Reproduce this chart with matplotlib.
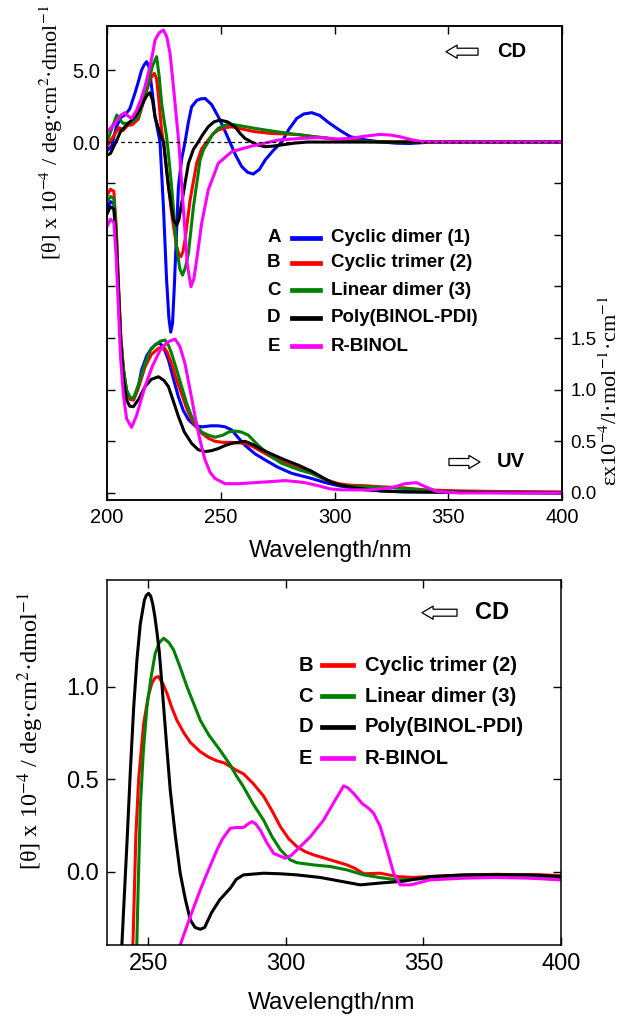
import numpy as np
import matplotlib
matplotlib.use("Agg")
import matplotlib.pyplot as plt
from matplotlib.lines import Line2D

plt.rcParams['font.family'] = ['Liberation Sans', 'DejaVu Sans']
plt.rcParams['mathtext.fontset'] = 'stix'

# ---------------- top panel: CD (left axis) ----------------
cd_wl_A = [200, 202, 204, 206, 208, 210, 212.3, 213.8, 215.2, 216.3, 217.4, 218.5, 219.6, 220.4, 221.1,
           222.2, 223.3, 224.8, 226.2, 227.2, 228, 228.8, 229.6, 230.5, 231.4, 232.8, 234.3, 235.8,
           237.2, 239.5, 241.3, 243.1, 246, 248.9, 251.5, 254, 256.5, 259.2, 261.8, 264.3, 267,
           269.5, 273, 276.8, 280, 283.4, 286.5, 290, 293.5, 297, 302, 307, 314, 320, 327, 333,
           340, 350, 400]
cd_A = [-0.6, -0.3, 1.0, 1.7, 1.9, 2.3, 3.4, 4.2, 5.0, 5.35, 5.58, 5.2, 3.84, 2.8, 1.76,
        0.9, 0.0, -4.5, -9.6, -12.2, -13.2, -12.6, -10.0, -6.5, -3.1, -1.2, 0.0, 1.4,
        2.45, 2.9, 3.0, 3.03, 2.6, 1.76, 0.9, 0.0, -0.9, -1.7, -2.1, -2.22, -1.9,
        -1.25, -0.6, 0.0, 0.9, 1.64, 1.95, 2.04, 1.85, 1.4, 0.85, 0.37, 0.14, 0.02, -0.08, -0.1,
        -0.03, 0.0, 0.0]

cd_wl_B = [200, 202, 204, 205.5, 207, 209, 211, 213.8, 216.7, 219, 220.8, 221.8, 222.6, 223.3, 224,
           225.3, 226.2, 228.4, 230.6, 231.6, 232.5, 233.4, 234.3, 236.5, 239.4, 241.5, 243.8,
           246.5, 248.9, 252, 254.8, 258, 265, 272, 280, 285, 290, 295.8, 299.4, 306, 314, 325, 400]
cd_B = [-0.3, 0.2, 0.7, 1.0, 0.8, 1.15, 1.2, 1.6, 3.15, 4.4, 4.77, 4.4, 3.2, 2.0, 0.83,
        -0.5, -1.94, -4.95, -7.27, -7.8, -7.96, -7.6, -6.8, -4.05, -1.48, -0.5, 0.0,
        0.55, 0.83, 1.0, 1.06, 0.95, 0.72, 0.6, 0.55, 0.5, 0.4, 0.28, 0.22, 0.12, 0.05, 0.01, 0.0]

cd_wl_C = [200, 202, 204.3, 205.5, 207, 208.6, 211, 213.8, 216, 218.2, 220, 221.8, 222.9, 224, 225,
           226.2, 227, 228.4, 229.5, 230.6, 232, 233.2, 234.5, 235.8, 238, 240.9, 242.5, 244.5,
           246.5, 248.9, 251.5, 254, 258, 265, 272, 279.7, 285, 290, 295.8, 299.4, 306, 314, 325, 400]
cd_C = [0.0, 0.9, 1.88, 1.6, 1.3, 1.3, 1.4, 1.76, 2.8, 4.07, 5.3, 5.93, 4.6, 2.7, 1.6,
        0.37, -0.8, -3.1, -5.2, -7.27, -8.8, -9.24, -8.7, -7.7, -4.5, -1.25, -0.5, 0.0,
        0.55, 0.95, 1.15, 1.25, 1.15, 0.95, 0.78, 0.6, 0.5, 0.38, 0.3, 0.2, 0.1, 0.04, 0.0, 0.0]

cd_wl_D = [200, 201.5, 203, 204.5, 206, 207.9, 210, 212.3, 214.2, 216, 217.6, 218.9, 220, 221.1,
           223.3, 224.8, 227, 229.2, 230.6, 231.6, 232.8, 235.8, 238, 240.1, 242, 244.5, 247,
           249.7, 253, 256.3, 258.5, 260.7, 263.6, 266.5, 269.5, 273, 276.8, 282, 288, 400]
cd_D = [-0.9, -0.8, -0.3, 0.2, 0.75, 1.06, 1.4, 1.76, 2.2, 2.8, 3.25, 3.43, 2.9, 1.76,
        0.6, 0.0, -3.1, -5.4, -5.76, -5.4, -4.26, -1.48, -0.5, 0.0, 0.5, 1.06, 1.4,
        1.53, 1.4, 1.06, 0.6, 0.25, 0.0, -0.22, -0.32, -0.28, -0.2, -0.08, 0.0, 0.0]

cd_wl_E = [200, 203.5, 206, 207.9, 209.3, 210.8, 213, 215, 216.7, 218.5, 220, 221.1, 223, 224.8,
           226.3, 227.7, 228.8, 229.9, 231.6, 233.6, 235.3, 236.9, 238.2, 239.4, 241.6, 244.5,
           248.9, 254.8, 263.6, 275.3, 285, 292, 296, 300, 306.8, 313, 320, 325, 328.8, 334.5,
           338.9, 345, 400]
cd_E = [0.7, 1.3, 1.85, 2.04, 1.8, 1.64, 2.2, 3.0, 3.84, 5.0, 6.1, 7.08, 7.6, 7.78,
        7.3, 6.16, 4.5, 2.7, -0.1, -4.7, -8.5, -10.05, -9.5, -8.2, -5.65, -3.33,
        -1.48, -0.67, -0.28, 0.14, 0.25, 0.3, 0.3, 0.2, 0.25, 0.4, 0.53, 0.48, 0.37, 0.14,
        0.02, 0.0, 0.0]

# ---------------- top panel: UV (right axis) ----------------
uv_wl_A = [200, 201.5, 203, 204, 205, 206, 207.2, 208.6, 210, 211.6, 213.5, 215.2, 217.5, 219.6,
           221.5, 223.3, 225, 227, 229, 231.4, 233.5, 235.8, 238.7, 242, 245.5, 248.9, 252,
           254.8, 257.5, 260.7, 265, 269.5, 275, 281.2, 290, 296, 301.7, 313.4, 325, 340, 400]
uv_A = [2.75, 2.82, 2.8, 2.5, 2.0, 1.5, 1.19, 0.98, 0.91, 0.9, 1.0, 1.19, 1.33, 1.4,
        1.44, 1.45, 1.4, 1.29, 1.12, 0.93, 0.8, 0.71, 0.65, 0.64, 0.65, 0.65, 0.64,
        0.61, 0.54, 0.46, 0.38, 0.32, 0.25, 0.19, 0.14, 0.1, 0.07, 0.03, 0.015, 0.01, 0.0]

uv_wl_B = [200, 201.5, 203, 204, 205, 206, 207.2, 208.6, 210, 211.6, 214, 216.7, 219.5, 222.6,
           224.8, 226.5, 228.4, 230.5, 232.8, 235, 237.2, 239.5, 241.6, 244.5, 247.5, 251,
           254.8, 260.7, 264, 268, 273, 278.2, 284, 290, 296, 301.7, 307, 313.4, 320, 330, 340,
           355, 370, 400]
uv_B = [2.88, 2.94, 2.92, 2.6, 2.05, 1.55, 1.2, 0.98, 0.91, 0.9, 1.03, 1.22, 1.34, 1.4,
        1.42, 1.36, 1.25, 1.1, 0.96, 0.82, 0.71, 0.63, 0.58, 0.53, 0.5, 0.49,
        0.49, 0.48, 0.45, 0.4, 0.34, 0.29, 0.24, 0.19, 0.13, 0.09, 0.075, 0.07, 0.06, 0.05, 0.03,
        0.02, 0.015, 0.01]

uv_wl_C = [200, 201.5, 203, 204, 205, 206, 207.2, 208.6, 210, 211.6, 214, 216.7, 219, 221.1,
           223.5, 225.5, 227, 228.4, 230.5, 232.8, 235, 237.2, 239.5, 241.6, 244.5, 247.5, 251,
           253.5, 256.3, 259, 262.1, 266.5, 272.4, 276.5, 281.2, 285, 290, 296, 301.7, 307,
           313.4, 320, 330, 340, 355, 400]
uv_C = [2.82, 2.87, 2.85, 2.55, 2.0, 1.5, 1.2, 1.0, 0.93, 0.915, 1.06, 1.25, 1.38, 1.43,
        1.47, 1.48, 1.43, 1.35, 1.2, 1.03, 0.87, 0.74, 0.65, 0.59, 0.56, 0.54, 0.56,
        0.59, 0.6, 0.59, 0.56, 0.46, 0.35, 0.29, 0.25, 0.22, 0.19, 0.13, 0.08, 0.065,
        0.06, 0.055, 0.045, 0.025, 0.01, 0.005]

uv_wl_D = [200, 201.5, 203, 204, 205, 206, 207.2, 208.6, 210, 211.6, 214, 216.7, 219.5, 222.6,
           225, 227, 229, 231.4, 234, 237.2, 240, 243.1, 246, 248.9, 252, 254.8, 260.7, 264,
           268, 273, 278.2, 284, 290, 294, 298.8, 304, 310.5, 320, 330, 400]
uv_D = [2.7, 2.77, 2.75, 2.45, 1.95, 1.45, 1.1, 0.9, 0.84, 0.835, 0.91, 1.03, 1.1, 1.125,
        1.09, 1.03, 0.9, 0.74, 0.59, 0.48, 0.42, 0.4, 0.41, 0.43, 0.46, 0.48, 0.5, 0.47,
        0.42, 0.37, 0.32, 0.27, 0.21, 0.16, 0.1, 0.07, 0.045, 0.02, 0.01, 0.0]

uv_wl_E = [200, 201.5, 203, 204, 205, 206, 207.2, 208.6, 210.8, 213, 216.7, 220, 223.3, 226.5,
           229.9, 232, 234.3, 236.5, 238.7, 241, 243.1, 245.3, 247.5, 251.9, 258, 265, 272,
           278.2, 283, 287, 292.9, 298, 303, 315, 325, 331, 336, 340, 345, 355, 400]
uv_E = [2.58, 2.65, 2.62, 2.3, 1.8, 1.3, 0.95, 0.72, 0.635, 0.75, 1.03, 1.23, 1.38, 1.46,
        1.49, 1.42, 1.25, 1.0, 0.74, 0.5, 0.32, 0.2, 0.14, 0.09, 0.09, 0.1, 0.11,
        0.12, 0.11, 0.1, 0.07, 0.04, 0.03, 0.03, 0.05, 0.09, 0.1, 0.06, 0.015, 0.0, 0.0]

# ---------------- bottom panel: CD, enlarged ----------------
b_wl_B = [243, 244.5, 245.5, 246.5, 248.3, 250, 251.3, 252.5, 253.7, 255.2, 256.8, 258.5, 260.4,
          263, 265.3, 268.9, 272, 275, 277.5, 279.8, 282, 284.6, 288, 291.9, 295, 298, 301,
          304, 307, 310.1, 316.2, 322.2, 325, 328.3, 334.3, 340.4, 346, 352.5, 360, 368, 376.8,
          385, 392, 399.8]
b_B = [-1.0, -0.35, 0.2, 0.5, 0.8, 0.95, 1.02, 1.05, 1.056, 1.02, 0.966, 0.89, 0.82,
       0.75, 0.7, 0.65, 0.62, 0.6, 0.59, 0.57, 0.55, 0.53, 0.48, 0.41, 0.33, 0.245, 0.18,
       0.137, 0.11, 0.092, 0.065, 0.038, 0.02, -0.01, -0.007, -0.025, -0.03, -0.025, -0.02,
       -0.015, -0.013, -0.015, -0.015, -0.02]

b_wl_C = [244.5, 245.5, 246.3, 247.1, 248.2, 249.5, 251, 252.5, 254, 255.6, 257.5, 259.2, 261.5,
          264.1, 266.5, 268.9, 272, 276, 279.8, 282, 284.6, 288, 291.9, 295, 298, 301.6, 304,
          310, 316.2, 322.2, 328.3, 334, 340.4, 346, 352.5, 365, 376.8, 388, 399.8]
b_C = [-1.0, -0.6, -0.1, 0.35, 0.65, 0.89, 1.05, 1.18, 1.24, 1.263, 1.24, 1.2, 1.11,
       1.0, 0.91, 0.82, 0.74, 0.66, 0.578, 0.52, 0.46, 0.37, 0.28, 0.19, 0.12, 0.065, 0.05,
       0.038, 0.029, 0.011, -0.016, -0.03, -0.043, -0.04, -0.034, -0.03, -0.025, -0.03, -0.04]

b_wl_D = [239.5, 240.4, 242.3, 243.5, 244.7, 245.9, 247.1, 248.6, 249.3, 250.1, 250.9, 251.6,
          252.4, 253.2, 254, 254.5, 255.6, 256.8, 258, 259.8, 261.6, 263.5, 265.3, 267, 268.9,
          270.5, 273, 276, 279.8, 282, 284.6, 291.9, 298, 304, 312.5, 319.8, 327.1, 334.3,
          342.8, 352.5, 364.6, 376, 388.9, 399.8]
b_D = [-0.8, -0.395, 0.17, 0.55, 0.89, 1.15, 1.34, 1.47, 1.495, 1.506, 1.49, 1.45,
       1.38, 1.29, 1.19, 1.1, 0.89, 0.66, 0.44, 0.2, -0.007, -0.15, -0.26, -0.3, -0.31,
       -0.3, -0.22, -0.15, -0.088, -0.04, -0.016, -0.007, -0.01, -0.016, -0.03, -0.05, -0.07,
       -0.06, -0.05, -0.025, -0.016, -0.015, -0.016, -0.025]

b_wl_E = [258, 261.6, 265.3, 268.9, 271, 273, 275, 277, 279.8, 282, 284.6, 286.3, 287.7, 289,
          290.7, 293, 295.6, 299.8, 302, 304, 308.9, 313.7, 318, 321, 322.5, 324.6, 327.7,
          330, 331.9, 334.3, 336.8, 339.2, 341.6, 345.3, 352.5, 364.6, 376, 388.9, 399.8]
b_E = [-0.8, -0.395, -0.24, -0.097, -0.02, 0.05, 0.12, 0.18, 0.236, 0.24, 0.24, 0.26, 0.272,
       0.26, 0.227, 0.16, 0.1, 0.074, 0.09, 0.119, 0.19, 0.28, 0.39, 0.465, 0.455, 0.425,
       0.37, 0.345, 0.317, 0.245, 0.119, -0.007, -0.07, -0.07, -0.043, -0.034, -0.03,
       -0.034, -0.043]

letters = ['A', 'B', 'C', 'D', 'E']
names = ['Cyclic dimer (1)', 'Cyclic trimer (2)', 'Linear dimer (3)',
         'Poly(BINOL-PDI)', 'R-BINOL']
colors = ['#0000ff', '#ff0000', '#008000', '#000000', '#ff00ff']

x_ticks_top = [200, 250, 300, 350, 400]
x_ticks_bot = [250, 300, 350, 400]
cd_ticks = [0, 5]
uv_ticks = [0, 0.5, 1.0, 1.5, 2.0, 2.5, 3.0]
b_ticks = [0, 0.5, 1.0]

W, H = 622, 1017
fig = plt.figure(figsize=(W / 100, H / 100), dpi=100)

# ================= top panel =================
ax = fig.add_axes([107 / W, 1 - 500 / H, 455 / W, 474 / H])
ax2 = ax.twinx()

cd_sets = [(cd_wl_A, cd_A), (cd_wl_B, cd_B), (cd_wl_C, cd_C), (cd_wl_D, cd_D), (cd_wl_E, cd_E)]
uv_sets = [(uv_wl_A, uv_A), (uv_wl_B, uv_B), (uv_wl_C, uv_C), (uv_wl_D, uv_D), (uv_wl_E, uv_E)]
for (wl, v), c in zip(cd_sets, colors):
    ax.plot(wl, v, color=c, lw=2.2, solid_joinstyle='round')
for (wl, v), c in zip(uv_sets, colors):
    ax2.plot(wl, v, color=c, lw=2.2, solid_joinstyle='round')
ax.axhline(0, color='black', lw=0.9, ls=(0, (3, 2.5)), zorder=6)

ax.set_xlim(200, 400)
ax.set_ylim(-24.86, 8.06)
ax2.set_ylim(-0.068, 4.52)
ax.set_xticks(x_ticks_top)
ax.set_yticks(cd_ticks)
ax.set_yticklabels(['%.1f' % t for t in cd_ticks])
ax2.set_yticks(uv_ticks)
ax2.set_yticklabels(['%.1f' % t if t <= 1.5 else '' for t in uv_ticks])
ax.tick_params(axis='x', direction='in', top=True, length=6, width=1, labelsize=14.5, pad=6)
ax.tick_params(axis='y', direction='in', right=False, length=6, width=1, labelsize=14.5, pad=5)
ax2.tick_params(axis='y', direction='in', left=True, labelleft=False, length=6, width=1,
                labelsize=13.5, pad=6)
for a in (ax, ax2):
    for s in a.spines.values():
        s.set_linewidth(1.1)

# legend
leg_rows = [0.553, 0.501, 0.443, 0.384, 0.324]
for yy, l, n, c in zip(leg_rows, letters, names, colors):
    ax2.text(0.367, yy, l, transform=ax2.transAxes, ha='center', va='center',
             fontsize=13.5, fontweight='bold')
    ax2.add_line(Line2D([0.4066, 0.468], [yy, yy], transform=ax2.transAxes, color=c, lw=3.4))
    ax2.text(0.492, yy, n, transform=ax2.transAxes, ha='left', va='center',
             fontsize=13.5, fontweight='bold')

arrow_style = 'simple,head_length=0.8,head_width=0.95,tail_width=0.5'
ax2.annotate('', xy=(0.745, 0.9458), xytext=(0.8154, 0.9458), xycoords='axes fraction',
             arrowprops=dict(arrowstyle=arrow_style, fc='white', ec='black', lw=0.9,
                             shrinkA=0, shrinkB=0, mutation_scale=10))
ax2.text(0.857, 0.9458, 'CD', transform=ax2.transAxes, ha='left', va='center',
         fontsize=14.5, fontweight='bold')
ax2.annotate('', xy=(0.8198, 0.0802), xytext=(0.7516, 0.0802), xycoords='axes fraction',
             arrowprops=dict(arrowstyle=arrow_style, fc='white', ec='black', lw=0.9,
                             shrinkA=0, shrinkB=0, mutation_scale=10))
ax2.text(0.857, 0.0802, 'UV', transform=ax2.transAxes, ha='left', va='center',
         fontsize=14.5, fontweight='bold')

fig.text(51 / W, 1 - 132 / H, r'[θ] x 10$^{-4}$ / deg·cm$^{2}$·dmol$^{-1}$', rotation=90,
         ha='center', va='center', family='Liberation Serif', fontsize=16)
fig.text(611 / W, 1 - 391 / H, r'εx10$^{-4}$/l·mol$^{-1}$·cm$^{-1}$', rotation=90,
         ha='center', va='center', family='Liberation Serif', fontsize=16)
fig.text(331 / W, 1 - 551 / H, 'Wavelength/nm', ha='center', va='center', fontsize=17)

# ================= bottom panel =================
axb = fig.add_axes([107 / W, 1 - 945 / H, 454 / W, 365 / H])
b_sets = [(b_wl_B, b_B), (b_wl_C, b_C), (b_wl_D, b_D), (b_wl_E, b_E)]
for (wl, v), c in zip(b_sets, colors[1:]):
    axb.plot(wl, v, color=c, lw=2.2, solid_joinstyle='round')
axb.set_xlim(235, 400)
axb.set_ylim(-0.395, 1.578)
axb.set_xticks(x_ticks_bot)
axb.set_yticks(b_ticks)
axb.set_yticklabels(['%.1f' % t for t in b_ticks])
axb.tick_params(axis='both', direction='in', top=True, right=True, length=6, width=1,
                labelsize=17, pad=6)
for s in axb.spines.values():
    s.set_linewidth(1.1)

leg_rows_b = [0.767, 0.682, 0.598, 0.5115]
for yy, l, n, c in zip(leg_rows_b, letters[1:], names[1:], colors[1:]):
    axb.text(0.438, yy, l, transform=axb.transAxes, ha='center', va='center',
             fontsize=14.5, fontweight='bold')
    axb.add_line(Line2D([0.4736, 0.5419], [yy, yy], transform=axb.transAxes, color=c, lw=3.4))
    axb.text(0.568, yy, n, transform=axb.transAxes, ha='left', va='center',
             fontsize=14.5, fontweight='bold')

axb.annotate('', xy=(0.6938, 0.9104), xytext=(0.7709, 0.9104), xycoords='axes fraction',
             arrowprops=dict(arrowstyle=arrow_style, fc='white', ec='black', lw=0.9,
                             shrinkA=0, shrinkB=0, mutation_scale=10))
axb.text(0.8106, 0.9104, 'CD', transform=axb.transAxes, ha='left', va='center',
         fontsize=17, fontweight='bold')

fig.text(31 / W, 1 - 731 / H, r'[θ] x 10$^{-4}$ / deg·cm$^{2}$·dmol$^{-1}$', rotation=90,
         ha='center', va='center', family='Liberation Serif', fontsize=17.5)
fig.text(332 / W, 1 - 1003 / H, 'Wavelength/nm', ha='center', va='center', fontsize=17.5)

fig.savefig('out.png', dpi=100)
